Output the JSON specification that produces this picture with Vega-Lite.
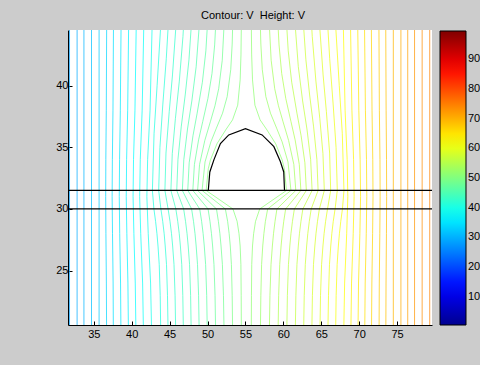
{
"$schema": "https://vega.github.io/schema/vega-lite/v6.json",
"width": 364, "height": 295,
"autosize": "none",
"padding": {"left": 68, "top": 30, "right": 48, "bottom": 40},
"background": "#cccccc",
"title": {"text": "Contour: V\u00a0 Height: V", "fontSize": 11, "font": "Liberation Sans", "fontWeight": "normal", "color": "black", "offset": 9, "dx": 3},
"config": {"font": "Liberation Sans", "view": {"fill": "white", "stroke": null},
 "axis": {"labelFont": "Liberation Sans", "labelFontSize": 11, "labelColor": "black", "domainColor": "black", "tickColor": "black", "grid": false, "title": null}},
"datasets": {
"c": [
{"v":28.5,"y":20,"x":31.8},{"v":28.5,"y":45,"x":31.8},
{"v":29.5,"y":20,"x":32.8},{"v":29.5,"y":45,"x":32.8},
{"v":30.5,"y":20,"x":33.7},{"v":30.5,"y":45,"x":33.7},
{"v":31.5,"y":20,"x":34.7},{"v":31.5,"y":45,"x":34.7},
{"v":32.5,"y":20,"x":35.7},{"v":32.5,"y":45,"x":35.7},
{"v":33.5,"y":20,"x":36.69},{"v":33.5,"y":24,"x":36.66},{"v":33.5,"y":28,"x":36.6},{"v":33.5,"y":31,"x":36.57},{"v":33.5,"y":34,"x":36.59},{"v":33.5,"y":38,"x":36.65},{"v":33.5,"y":45,"x":36.7},
{"v":34.5,"y":20,"x":37.58},{"v":34.5,"y":24,"x":37.55},{"v":34.5,"y":28,"x":37.47},{"v":34.5,"y":31,"x":37.42},{"v":34.5,"y":34,"x":37.45},{"v":34.5,"y":38,"x":37.53},{"v":34.5,"y":45,"x":37.6},
{"v":35.5,"y":20,"x":38.58},{"v":35.5,"y":24,"x":38.53},{"v":35.5,"y":28,"x":38.42},{"v":35.5,"y":31,"x":38.36},{"v":35.5,"y":34,"x":38.4},{"v":35.5,"y":38,"x":38.5},{"v":35.5,"y":45,"x":38.6},
{"v":36.5,"y":20,"x":39.57},{"v":36.5,"y":24,"x":39.5},{"v":36.5,"y":28,"x":39.36},{"v":36.5,"y":31,"x":39.28},{"v":36.5,"y":34,"x":39.33},{"v":36.5,"y":38,"x":39.47},{"v":36.5,"y":45,"x":39.6},
{"v":37.5,"y":20,"x":40.56},{"v":37.5,"y":24,"x":40.47},{"v":37.5,"y":28,"x":40.29},{"v":37.5,"y":31,"x":40.18},{"v":37.5,"y":34,"x":40.24},{"v":37.5,"y":38,"x":40.43},{"v":37.5,"y":45,"x":40.6},
{"v":38.5,"y":20,"x":41.55},{"v":38.5,"y":24,"x":41.44},{"v":38.5,"y":28,"x":41.19},{"v":38.5,"y":31,"x":41.05},{"v":38.5,"y":34,"x":41.13},{"v":38.5,"y":38,"x":41.38},{"v":38.5,"y":45,"x":41.6},
{"v":39.5,"y":20,"x":42.63},{"v":39.5,"y":24,"x":42.49},{"v":39.5,"y":28,"x":42.18},{"v":39.5,"y":31,"x":42.0},{"v":39.5,"y":34,"x":42.1},{"v":39.5,"y":38,"x":42.42},{"v":39.5,"y":45,"x":42.7},
{"v":40.5,"y":20,"x":43.83},{"v":40.5,"y":23,"x":43.76},{"v":40.5,"y":25.5,"x":43.63},{"v":40.5,"y":27,"x":43.47},{"v":40.5,"y":28,"x":43.33},{"v":40.5,"y":29,"x":43.15},{"v":40.5,"y":30,"x":42.93},{"v":40.5,"y":31.5,"x":42.73},{"v":40.5,"y":36.13,"x":42.95},{"v":40.5,"y":40.0,"x":43.35},{"v":40.5,"y":44.89,"x":43.83},{"v":40.5,"y":46.25,"x":43.93},
{"v":41.5,"y":20,"x":44.8},{"v":41.5,"y":23,"x":44.72},{"v":41.5,"y":25.5,"x":44.59},{"v":41.5,"y":27,"x":44.42},{"v":41.5,"y":28,"x":44.28},{"v":41.5,"y":29,"x":44.09},{"v":41.5,"y":30,"x":43.85},{"v":41.5,"y":31.5,"x":43.56},{"v":41.5,"y":34.98,"x":43.72},{"v":41.5,"y":38.43,"x":44.1},{"v":41.5,"y":42.17,"x":44.56},{"v":41.5,"y":45.72,"x":44.9},
{"v":42.5,"y":20,"x":45.8},{"v":42.5,"y":23,"x":45.72},{"v":42.5,"y":25.5,"x":45.58},{"v":42.5,"y":27,"x":45.4},{"v":42.5,"y":28,"x":45.25},{"v":42.5,"y":29,"x":45.05},{"v":42.5,"y":30,"x":44.8},{"v":42.5,"y":31.5,"x":44.38},{"v":42.5,"y":34.53,"x":44.52},{"v":42.5,"y":37.9,"x":44.95},{"v":42.5,"y":40.86,"x":45.38},{"v":42.5,"y":44.52,"x":45.8},{"v":42.5,"y":46.43,"x":45.96},
{"v":43.5,"y":20,"x":46.82},{"v":43.5,"y":23,"x":46.74},{"v":43.5,"y":25.5,"x":46.6},{"v":43.5,"y":27,"x":46.42},{"v":43.5,"y":28,"x":46.27},{"v":43.5,"y":29,"x":46.07},{"v":43.5,"y":30,"x":45.82},{"v":43.5,"y":31.5,"x":45.17},{"v":43.5,"y":34.48,"x":45.35},{"v":43.5,"y":37.31,"x":45.76},{"v":43.5,"y":40.36,"x":46.28},{"v":43.5,"y":43.97,"x":46.76},{"v":43.5,"y":46.44,"x":46.99},
{"v":44.5,"y":20,"x":47.85},{"v":44.5,"y":23,"x":47.77},{"v":44.5,"y":25.5,"x":47.63},{"v":44.5,"y":27,"x":47.45},{"v":44.5,"y":28,"x":47.3},{"v":44.5,"y":29,"x":47.1},{"v":44.5,"y":30,"x":46.85},{"v":44.5,"y":31.5,"x":45.94},{"v":44.5,"y":34.02,"x":46.1},{"v":44.5,"y":36.65,"x":46.53},{"v":44.5,"y":39.31,"x":47.07},{"v":44.5,"y":42.09,"x":47.55},{"v":44.5,"y":45.83,"x":47.97},
{"v":45.5,"y":20,"x":48.9},{"v":45.5,"y":23,"x":48.82},{"v":45.5,"y":25.5,"x":48.68},{"v":45.5,"y":27,"x":48.5},{"v":45.5,"y":28,"x":48.35},{"v":45.5,"y":29,"x":48.15},{"v":45.5,"y":30,"x":47.9},{"v":45.5,"y":31.5,"x":46.68},{"v":45.5,"y":33.99,"x":46.87},{"v":45.5,"y":36.48,"x":47.36},{"v":45.5,"y":38.75,"x":47.93},{"v":45.5,"y":41.53,"x":48.5},{"v":45.5,"y":45.76,"x":49.02},
{"v":46.5,"y":20,"x":49.97},{"v":46.5,"y":23,"x":49.89},{"v":46.5,"y":25.5,"x":49.75},{"v":46.5,"y":27,"x":49.57},{"v":46.5,"y":28,"x":49.42},{"v":46.5,"y":29,"x":49.22},{"v":46.5,"y":30,"x":48.97},{"v":46.5,"y":31.5,"x":47.39},{"v":46.5,"y":33.74,"x":47.58},{"v":46.5,"y":35.93,"x":48.08},{"v":46.5,"y":37.76,"x":48.63},{"v":46.5,"y":40.27,"x":49.32},{"v":46.5,"y":42.81,"x":49.78},{"v":46.5,"y":46.18,"x":50.11},
{"v":47.5,"y":20,"x":51.07},{"v":47.5,"y":23,"x":50.99},{"v":47.5,"y":25.5,"x":50.85},{"v":47.5,"y":27,"x":50.67},{"v":47.5,"y":28,"x":50.52},{"v":47.5,"y":29,"x":50.32},{"v":47.5,"y":30,"x":50.07},{"v":47.5,"y":31.5,"x":48.06},{"v":47.5,"y":33.61,"x":48.27},{"v":47.5,"y":35.6,"x":48.82},{"v":47.5,"y":37.09,"x":49.37},{"v":47.5,"y":38.95,"x":50.05},{"v":47.5,"y":40.98,"x":50.59},{"v":47.5,"y":43.29,"x":50.94},{"v":47.5,"y":45.98,"x":51.17},
{"v":48.5,"y":20,"x":52.18},{"v":48.5,"y":23,"x":52.1},{"v":48.5,"y":25.5,"x":51.96},{"v":48.5,"y":27,"x":51.78},{"v":48.5,"y":28,"x":51.63},{"v":48.5,"y":29,"x":51.43},{"v":48.5,"y":30,"x":51.18},{"v":48.5,"y":31.5,"x":48.69},{"v":48.5,"y":33.61,"x":48.95},{"v":48.5,"y":35.55,"x":49.64},{"v":48.5,"y":37.06,"x":50.37},{"v":48.5,"y":38.36,"x":50.98},{"v":48.5,"y":39.74,"x":51.47},{"v":48.5,"y":42.04,"x":51.94},{"v":48.5,"y":45.72,"x":52.25},
{"v":49.5,"y":20,"x":53.31},{"v":49.5,"y":23,"x":53.25},{"v":49.5,"y":25.5,"x":53.15},{"v":49.5,"y":27,"x":53.0},{"v":49.5,"y":28,"x":52.85},{"v":49.5,"y":29,"x":52.65},{"v":49.5,"y":30,"x":52.35},{"v":49.5,"y":31.5,"x":49.28},{"v":49.5,"y":33.81,"x":49.67},{"v":49.5,"y":35.43,"x":50.44},{"v":49.5,"y":36.55,"x":51.17},{"v":49.5,"y":37.76,"x":51.98},{"v":49.5,"y":39.1,"x":52.59},{"v":49.5,"y":41.29,"x":53.06},{"v":49.5,"y":43.36,"x":53.25},{"v":49.5,"y":45.9,"x":53.36},
{"v":50.5,"y":20,"x":54.46},{"v":50.5,"y":23,"x":54.44},{"v":50.5,"y":25.5,"x":54.4},{"v":50.5,"y":27,"x":54.3},{"v":50.5,"y":28,"x":54.15},{"v":50.5,"y":29,"x":53.9},{"v":50.5,"y":30,"x":53.35},{"v":50.5,"y":31.5,"x":49.82},{"v":50.5,"y":33.26,"x":50.1},{"v":50.5,"y":33.96,"x":50.38},{"v":50.5,"y":35.28,"x":51.24},{"v":50.5,"y":36.4,"x":52.39},{"v":50.5,"y":37.22,"x":53.3},{"v":50.5,"y":38.41,"x":53.98},{"v":50.5,"y":40.46,"x":54.3},{"v":50.5,"y":42.48,"x":54.41},{"v":50.5,"y":45.49,"x":54.47},
{"v":51.5,"y":20,"x":55.77},{"v":51.5,"y":23,"x":55.79},{"v":51.5,"y":25.5,"x":55.83},{"v":51.5,"y":27,"x":55.93},{"v":51.5,"y":28,"x":56.08},{"v":51.5,"y":29,"x":56.33},{"v":51.5,"y":30,"x":56.88},{"v":51.5,"y":31.5,"x":60.41},{"v":51.5,"y":33.26,"x":60.13},{"v":51.5,"y":33.96,"x":59.85},{"v":51.5,"y":35.28,"x":58.99},{"v":51.5,"y":36.4,"x":57.84},{"v":51.5,"y":37.22,"x":56.93},{"v":51.5,"y":38.41,"x":56.25},{"v":51.5,"y":40.46,"x":55.93},{"v":51.5,"y":42.48,"x":55.82},{"v":51.5,"y":45.49,"x":55.76},
{"v":52.5,"y":20,"x":56.97},{"v":52.5,"y":23,"x":57.03},{"v":52.5,"y":25.5,"x":57.13},{"v":52.5,"y":27,"x":57.28},{"v":52.5,"y":28,"x":57.43},{"v":52.5,"y":29,"x":57.63},{"v":52.5,"y":30,"x":57.93},{"v":52.5,"y":31.5,"x":61.0},{"v":52.5,"y":33.81,"x":60.61},{"v":52.5,"y":35.43,"x":59.84},{"v":52.5,"y":36.55,"x":59.11},{"v":52.5,"y":37.76,"x":58.3},{"v":52.5,"y":39.1,"x":57.69},{"v":52.5,"y":41.29,"x":57.22},{"v":52.5,"y":43.36,"x":57.03},{"v":52.5,"y":45.9,"x":56.92},
{"v":53.5,"y":20,"x":58.15},{"v":53.5,"y":23,"x":58.23},{"v":53.5,"y":25.5,"x":58.37},{"v":53.5,"y":27,"x":58.55},{"v":53.5,"y":28,"x":58.7},{"v":53.5,"y":29,"x":58.9},{"v":53.5,"y":30,"x":59.15},{"v":53.5,"y":31.5,"x":61.64},{"v":53.5,"y":33.61,"x":61.38},{"v":53.5,"y":35.55,"x":60.69},{"v":53.5,"y":37.06,"x":59.96},{"v":53.5,"y":38.36,"x":59.35},{"v":53.5,"y":39.74,"x":58.86},{"v":53.5,"y":42.04,"x":58.39},{"v":53.5,"y":45.72,"x":58.08},
{"v":54.5,"y":20,"x":59.3},{"v":54.5,"y":23,"x":59.38},{"v":54.5,"y":25.5,"x":59.52},{"v":54.5,"y":27,"x":59.7},{"v":54.5,"y":28,"x":59.85},{"v":54.5,"y":29,"x":60.05},{"v":54.5,"y":30,"x":60.3},{"v":54.5,"y":31.5,"x":62.31},{"v":54.5,"y":33.61,"x":62.1},{"v":54.5,"y":35.6,"x":61.55},{"v":54.5,"y":37.09,"x":61.0},{"v":54.5,"y":38.95,"x":60.32},{"v":54.5,"y":40.98,"x":59.78},{"v":54.5,"y":43.29,"x":59.43},{"v":54.5,"y":45.98,"x":59.2},
{"v":55.5,"y":20,"x":60.45},{"v":55.5,"y":23,"x":60.53},{"v":55.5,"y":25.5,"x":60.67},{"v":55.5,"y":27,"x":60.85},{"v":55.5,"y":28,"x":61.0},{"v":55.5,"y":29,"x":61.2},{"v":55.5,"y":30,"x":61.45},{"v":55.5,"y":31.5,"x":63.03},{"v":55.5,"y":33.74,"x":62.84},{"v":55.5,"y":35.93,"x":62.34},{"v":55.5,"y":37.76,"x":61.79},{"v":55.5,"y":40.27,"x":61.1},{"v":55.5,"y":42.81,"x":60.64},{"v":55.5,"y":46.18,"x":60.31},
{"v":56.5,"y":20,"x":61.57},{"v":56.5,"y":23,"x":61.65},{"v":56.5,"y":25.5,"x":61.79},{"v":56.5,"y":27,"x":61.97},{"v":56.5,"y":28,"x":62.12},{"v":56.5,"y":29,"x":62.32},{"v":56.5,"y":30,"x":62.57},{"v":56.5,"y":31.5,"x":63.79},{"v":56.5,"y":33.99,"x":63.6},{"v":56.5,"y":36.48,"x":63.11},{"v":56.5,"y":38.75,"x":62.54},{"v":56.5,"y":41.53,"x":61.97},{"v":56.5,"y":45.76,"x":61.45},
{"v":57.5,"y":20,"x":62.67},{"v":57.5,"y":23,"x":62.75},{"v":57.5,"y":25.5,"x":62.89},{"v":57.5,"y":27,"x":63.07},{"v":57.5,"y":28,"x":63.22},{"v":57.5,"y":29,"x":63.42},{"v":57.5,"y":30,"x":63.67},{"v":57.5,"y":31.5,"x":64.58},{"v":57.5,"y":34.02,"x":64.42},{"v":57.5,"y":36.65,"x":63.99},{"v":57.5,"y":39.31,"x":63.45},{"v":57.5,"y":42.09,"x":62.97},{"v":57.5,"y":45.83,"x":62.55},
{"v":58.5,"y":20,"x":63.75},{"v":58.5,"y":23,"x":63.83},{"v":58.5,"y":25.5,"x":63.97},{"v":58.5,"y":27,"x":64.15},{"v":58.5,"y":28,"x":64.3},{"v":58.5,"y":29,"x":64.5},{"v":58.5,"y":30,"x":64.75},{"v":58.5,"y":31.5,"x":65.4},{"v":58.5,"y":34.48,"x":65.22},{"v":58.5,"y":37.31,"x":64.81},{"v":58.5,"y":40.36,"x":64.29},{"v":58.5,"y":43.97,"x":63.81},{"v":58.5,"y":46.44,"x":63.58},
{"v":59.5,"y":20,"x":64.82},{"v":59.5,"y":23,"x":64.9},{"v":59.5,"y":25.5,"x":65.04},{"v":59.5,"y":27,"x":65.22},{"v":59.5,"y":28,"x":65.37},{"v":59.5,"y":29,"x":65.57},{"v":59.5,"y":30,"x":65.82},{"v":59.5,"y":31.5,"x":66.24},{"v":59.5,"y":34.53,"x":66.1},{"v":59.5,"y":37.9,"x":65.67},{"v":59.5,"y":40.86,"x":65.24},{"v":59.5,"y":44.52,"x":64.82},{"v":59.5,"y":46.43,"x":64.66},
{"v":60.5,"y":20,"x":65.87},{"v":60.5,"y":23,"x":65.95},{"v":60.5,"y":25.5,"x":66.08},{"v":60.5,"y":27,"x":66.25},{"v":60.5,"y":28,"x":66.39},{"v":60.5,"y":29,"x":66.58},{"v":60.5,"y":30,"x":66.82},{"v":60.5,"y":31.5,"x":67.11},{"v":60.5,"y":34.98,"x":66.95},{"v":60.5,"y":38.43,"x":66.57},{"v":60.5,"y":42.17,"x":66.11},{"v":60.5,"y":45.72,"x":65.77},
{"v":61.5,"y":20,"x":66.89},{"v":61.5,"y":23,"x":66.96},{"v":61.5,"y":25.5,"x":67.09},{"v":61.5,"y":27,"x":67.25},{"v":61.5,"y":28,"x":67.39},{"v":61.5,"y":29,"x":67.57},{"v":61.5,"y":30,"x":67.79},{"v":61.5,"y":31.5,"x":67.99},{"v":61.5,"y":36.13,"x":67.77},{"v":61.5,"y":40.0,"x":67.37},{"v":61.5,"y":44.89,"x":66.89},{"v":61.5,"y":46.25,"x":66.79},
{"v":62.5,"y":20,"x":67.96},{"v":62.5,"y":24,"x":68.08},{"v":62.5,"y":28,"x":68.35},{"v":62.5,"y":31,"x":68.5},{"v":62.5,"y":34,"x":68.41},{"v":62.5,"y":38,"x":68.14},{"v":62.5,"y":45,"x":67.9},
{"v":63.5,"y":20,"x":68.9},{"v":63.5,"y":24,"x":68.99},{"v":63.5,"y":28,"x":69.21},{"v":63.5,"y":31,"x":69.33},{"v":63.5,"y":34,"x":69.26},{"v":63.5,"y":38,"x":69.04},{"v":63.5,"y":45,"x":68.85},
{"v":64.5,"y":20,"x":69.84},{"v":64.5,"y":24,"x":69.91},{"v":64.5,"y":28,"x":70.09},{"v":64.5,"y":31,"x":70.18},{"v":64.5,"y":34,"x":70.12},{"v":64.5,"y":38,"x":69.95},{"v":64.5,"y":45,"x":69.8},
{"v":65.5,"y":20,"x":70.73},{"v":65.5,"y":24,"x":70.79},{"v":65.5,"y":28,"x":70.93},{"v":65.5,"y":31,"x":71.0},{"v":65.5,"y":34,"x":70.96},{"v":65.5,"y":38,"x":70.82},{"v":65.5,"y":45,"x":70.7},
{"v":66.5,"y":20,"x":71.62},{"v":66.5,"y":24,"x":71.67},{"v":66.5,"y":28,"x":71.77},{"v":66.5,"y":31,"x":71.82},{"v":66.5,"y":34,"x":71.79},{"v":66.5,"y":38,"x":71.69},{"v":66.5,"y":45,"x":71.6},
{"v":67.5,"y":20,"x":72.62},{"v":67.5,"y":24,"x":72.65},{"v":67.5,"y":28,"x":72.72},{"v":67.5,"y":31,"x":72.76},{"v":67.5,"y":34,"x":72.74},{"v":67.5,"y":38,"x":72.66},{"v":67.5,"y":45,"x":72.6},
{"v":68.5,"y":20,"x":73.51},{"v":68.5,"y":24,"x":73.54},{"v":68.5,"y":28,"x":73.59},{"v":68.5,"y":31,"x":73.62},{"v":68.5,"y":34,"x":73.6},{"v":68.5,"y":38,"x":73.55},{"v":68.5,"y":45,"x":73.5},
{"v":69.5,"y":20,"x":74.5},{"v":69.5,"y":45,"x":74.5},
{"v":70.5,"y":20,"x":75.5},{"v":70.5,"y":45,"x":75.5},
{"v":71.5,"y":20,"x":76.4},{"v":71.5,"y":45,"x":76.4},
{"v":72.5,"y":20,"x":77.3},{"v":72.5,"y":45,"x":77.3},
{"v":73.5,"y":20,"x":78.3},{"v":73.5,"y":45,"x":78.3},
{"v":74.5,"y":20,"x":79.3},{"v":74.5,"y":45,"x":79.3}
],
"ob": [
{"o":1,"x":50.1,"y":31.5},{"o":2,"x":50.3,"y":33.0},{"o":3,"x":50.85,"y":34.0},{"o":4,"x":51.7,"y":35.3},{"o":5,"x":52.8,"y":36.0},{"o":6,"x":55.0,"y":36.5},{"o":7,"x":57.2,"y":36.0},{"o":8,"x":58.75,"y":35.05},{"o":9,"x":59.6,"y":33.85},{"o":10,"x":60.05,"y":33.0},{"o":11,"x":60.15,"y":31.5}
],
"h": [{"hy":30},{"hy":31.5}]
},
"layer": [
{"data": {"name": "c"},
 "mark": {"type": "line", "strokeWidth": 1, "strokeOpacity": 0.72, "clip": true},
 "encoding": {
  "x": {"field": "x", "type": "quantitative", "scale": {"domain": [31.6, 79.6], "nice": false, "zero": false},
        "axis": {"values": [35,40,45,50,55,60,65,70,75], "tickSize": -4, "labelPadding": 7}},
  "y": {"field": "y", "type": "quantitative", "scale": {"domain": [20.6, 44.5], "nice": false, "zero": false},
        "axis": {"values": [25,30,35,40], "tickSize": -4, "labelPadding": 4}},
  "color": {"field": "v", "type": "quantitative",
     "scale": {"domain": [0.5, 12.875, 37.625, 62.375, 87.125, 99.5], "range": ["#00008f","#0000ff","#00ffff","#ffff00","#ff0000","#800000"], "interpolate": "rgb"},
     "legend": {"orient": "none", "legendX": 372, "legendY": 1, "direction": "vertical", "gradientLength": 294, "gradientThickness": 26,
        "values": [10,20,30,40,50,60,70,80,90], "title": null, "labelFontSize": 11, "labelFont": "Liberation Sans", "labelColor": "black",
        "labelOffset": 2, "gradientStrokeColor": "black", "gradientStrokeWidth": 1, "labelOverlap": false}},
  "detail": {"field": "v", "type": "nominal"},
  "order": {"field": "y", "type": "quantitative"}
 }},
{"data": {"name": "h"},
 "mark": {"type": "rule", "color": "black", "strokeWidth": 1.2},
 "encoding": {"y": {"field": "hy", "type": "quantitative"}}},
{"data": {"name": "ob"},
 "mark": {"type": "line", "color": "black", "strokeWidth": 1.2},
 "encoding": {"x": {"field": "x", "type": "quantitative"}, "y": {"field": "y", "type": "quantitative"}, "order": {"field": "o", "type": "quantitative"}}}
]
}
